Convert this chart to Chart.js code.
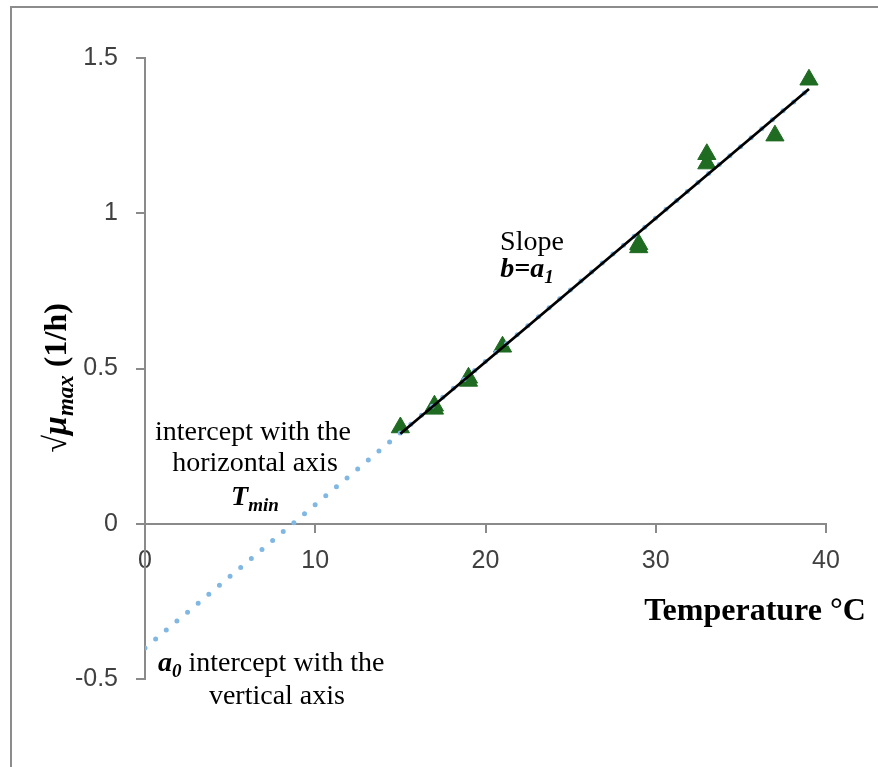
<!DOCTYPE html>
<html><head><meta charset="utf-8">
<script src="https://cdn.jsdelivr.net/npm/chart.js@4/dist/chart.umd.min.js"></script>
<style>
html,body{margin:0;padding:0;background:#fff;overflow:hidden;}
#wrap{position:relative;width:878px;height:767px;overflow:hidden;}
#frame{position:absolute;left:10px;top:6px;width:900px;height:800px;border-top:2px solid #8c8c8c;border-left:2px solid #8c8c8c;}
canvas{position:absolute;left:0;top:0;}
</style></head><body>
<div id="wrap"><div id="frame"></div><canvas id="c" width="878" height="767"></canvas></div>
<script>
// ---- data ----
const temperature = [15, 17, 17, 19, 19, 21, 29, 29, 33, 33, 37, 39];
const sqrtMuMax   = [0.31, 0.38, 0.37, 0.47, 0.46, 0.57, 0.90, 0.89, 1.19, 1.16, 1.25, 1.43];
const fitX = [15, 39];
const fitY = [0.29, 1.40];
const extX = [0, 39];
const extY = [-0.40, 1.40];
const xTicks = [0, 10, 20, 30, 40];
const yTicks = [-0.5, 0, 0.5, 1, 1.5];

const SERIF = '"Liberation Serif", "Times New Roman", serif';
const SANS = '"Liberation Sans", Arial, sans-serif';
const AXIS = '#8a8a8a';

// text annotations, anchored in data coordinates
const annotations = [
  {x: 22.73, y: 0.882, align: 'center', runs: [{t: 'Slope', font: '28px ' + SERIF}]},
  {x: 22.44, y: 0.795, align: 'center', runs: [{t: 'b=a', font: 'bold italic 28px ' + SERIF}, {t: '1', font: 'bold italic 19px ' + SERIF, dy: 6}]},
  {x: 6.34, y: 0.2705, align: 'center', runs: [{t: 'intercept with the', font: '28px ' + SERIF}]},
  {x: 6.46, y: 0.1707, align: 'center', runs: [{t: 'horizontal axis', font: '28px ' + SERIF}]},
  {x: 6.46, y: 0.0612, align: 'center', runs: [{t: 'T', font: 'bold italic 28px ' + SERIF}, {t: 'min', font: 'bold italic 19px ' + SERIF, dy: 6}]},
  {x: 0.76, y: -0.4734, align: 'left', runs: [{t: 'a', font: 'bold italic 28px ' + SERIF}, {t: '0', font: 'bold italic 19px ' + SERIF, dy: 6}, {t: ' intercept with the', font: '28px ' + SERIF}]},
  {x: 7.75, y: -0.5797, align: 'center', runs: [{t: 'vertical axis', font: '28px ' + SERIF}]},
  {x: 35.83, y: -0.309, align: 'center', runs: [{t: 'Temperature °C', font: 'bold 32px ' + SERIF}]},
  {x: -4.65, y: 0.47, align: 'center', rotate: true, runs: [
    {t: '√', font: '32px ' + SERIF},
    {t: 'μ', font: 'bold italic 34px ' + SERIF},
    {t: 'max', font: 'bold italic 23px ' + SERIF, dy: 7},
    {t: ' (1/h)', font: 'bold 32px ' + SERIF}
  ]}
];

function drawRuns(ctx, runs, x0, y0, align) {
  let w = 0;
  runs.forEach(r => { ctx.font = r.font; r.w = ctx.measureText(r.t).width; w += r.w; });
  let x = align === 'left' ? x0 : x0 - w / 2;
  runs.forEach(r => { ctx.font = r.font; ctx.fillText(r.t, x, y0 + (r.dy || 0)); x += r.w; });
}

const annotPlugin = {
  id: 'annot',
  afterDraw(chart) {
    const ctx = chart.ctx, xs = chart.scales.x, ys = chart.scales.y;
    ctx.save();
    ctx.fillStyle = '#000';
    ctx.textBaseline = 'alphabetic';
    ctx.textAlign = 'left';
    annotations.forEach(a => {
      const px = xs.getPixelForValue(a.x), py = ys.getPixelForValue(a.y);
      if (a.rotate) {
        ctx.save();
        ctx.translate(px, py);
        ctx.rotate(-Math.PI / 2);
        drawRuns(ctx, a.runs, 0, 0, 'center');
        ctx.restore();
      } else {
        drawRuns(ctx, a.runs, px, py, a.align);
      }
    });
    ctx.restore();
  }
};

new Chart(document.getElementById('c').getContext('2d'), {
  type: 'scatter',
  data: {
    datasets: [
      {type: 'line', data: fitX.map((x, i) => ({x, y: fitY[i]})), borderColor: '#000', borderWidth: 2.8,
       pointRadius: 0, fill: false, order: 0},
      {type: 'line', data: extX.map((x, i) => ({x, y: extY[i]})), borderColor: '#80b7e3', borderWidth: 5,
       borderDash: [0, 13.9], borderCapStyle: 'round', pointRadius: 0, fill: false, order: 1},
      {data: temperature.map((x, i) => ({x, y: sqrtMuMax[i]})), pointStyle: 'triangle', pointRadius: 10.5,
       backgroundColor: '#1e6b21', borderColor: '#1e6b21', borderWidth: 1, order: 2}
    ]
  },
  options: {
    responsive: false, animation: false, devicePixelRatio: 1,
    layout: {padding: {left: 0, right: 52, top: 58, bottom: 88}},
    plugins: {legend: {display: false}, tooltip: {enabled: false}},
    scales: {
      x: {
        type: 'linear', min: 0, max: 40, position: {y: 0},
        afterFit(s) { s.height = 0; },
        afterBuildTicks(s) { s.ticks = xTicks.map(v => ({value: v})); },
        border: {color: AXIS, width: 2},
        grid: {drawOnChartArea: false, drawTicks: true, tickLength: 8, color: AXIS, lineWidth: 2},
        ticks: {font: {family: SANS, size: 25}, color: '#404040', padding: 14, maxRotation: 0, autoSkip: false,
                callback: v => String(v)}
      },
      y: {
        type: 'linear', min: -0.5, max: 1.5, position: 'left',
        afterFit(s) { s.width = 145; },
        afterBuildTicks(s) { s.ticks = yTicks.map(v => ({value: v})); },
        border: {color: AXIS, width: 2},
        grid: {drawOnChartArea: false, drawTicks: true, tickLength: 9, color: AXIS, lineWidth: 2},
        ticks: {font: {family: SANS, size: 25}, color: '#404040', padding: 18, autoSkip: false,
                callback: v => String(v)}
      }
    }
  },
  plugins: [annotPlugin]
});
</script>
</body></html>
